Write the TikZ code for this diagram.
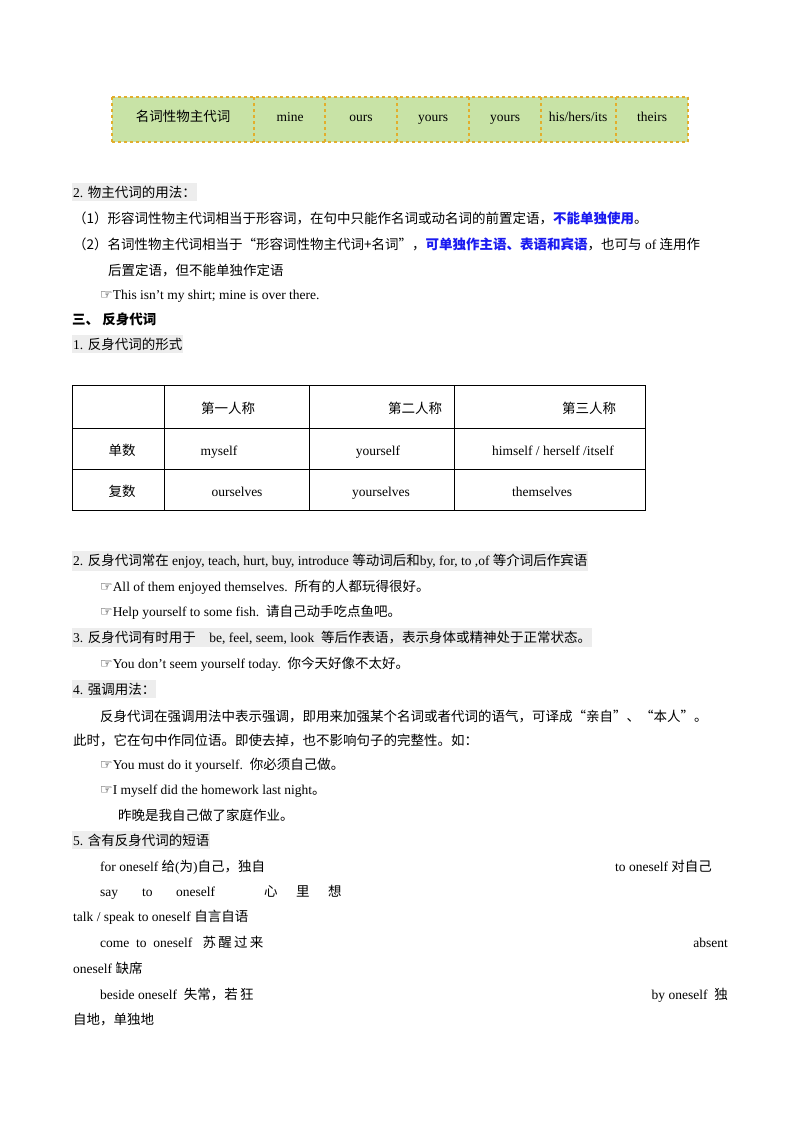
\documentclass[tikz,border=0pt]{standalone}
\usepackage{fontspec}
\setmainfont{Liberation Serif}
\newfontfamily\cjk{Noto Sans CJK SC}
\newfontfamily\dv{DejaVu Sans}
\newcommand\zh[1]{{\cjk #1}}
\newcommand\hand{{\dv\fontsize{14}{16}\selectfont ☞}}
\definecolor{hl}{HTML}{EDEDED}
\definecolor{tgreen}{HTML}{C8E3A6}
\definecolor{tgold}{HTML}{E2AE2C}
\definecolor{kblue}{HTML}{1A1AF0}
\begin{document}
\begin{tikzpicture}[x=1pt,y=-1pt,
  txt/.style={anchor=base west,inner sep=0pt,font=\fontsize{13.5}{15}\selectfont},
  head/.style={txt,fill=hl,inner ysep=3pt,inner xsep=1pt},
  cell/.style={anchor=base,inner sep=0pt,font=\fontsize{13.5}{15}\selectfont}]
\useasboundingbox (0,0) rectangle (800,1132);
% top table
\fill[tgreen] (112,97) rectangle (688,142);
\foreach \x in {112,254,325,397,469,541,616,688}
  \draw[tgold,dashed,line width=1.4pt] (\x,97) -- (\x,142);
\draw[tgold,dashed,line width=1.4pt] (112,97) -- (688,97) (112,142) -- (688,142);
\node[cell] (t0) at (183,121) {\zh{名词性物主代词}};
\node[cell] (t1) at (290,121) {mine};
\node[cell] (t2) at (361,121) {ours};
\node[cell] (t3) at (433,121) {yours};
\node[cell] (t4) at (505,121) {yours};
\node[cell] (t5) at (578,121) {his/hers/its};
\node[cell] (t6) at (652,121) {theirs};
% section 2
\node[head] (h2) at (72,197) {2. \zh{物主代词的用法：}};
\node[txt] (p1) at (73,223) {\zh{（1）形容词性物主代词相当于形容词，在句中只能作名词或动名词的前置定语，}{\cjk\bfseries\color{kblue}不能单独使用}\zh{。}};
\node[txt] (p2) at (73,249) {\zh{（2）名词性物主代词相当于“形容词性物主代词+名词”，}{\cjk\bfseries\color{kblue}可单独作主语、表语和宾语}\zh{，也可与} of \zh{连用作}};
\node[txt] (p2b) at (108,275) {\zh{后置定语，但不能单独作定语}};
\node[txt] (e1) at (100,299) {\hand This isn’t my shirt; mine is over there.};
\node[txt] (h3) at (72,324) {\cjk\bfseries 三、\ 反身代词};
\node[head] (h31) at (72,349) {1. \zh{反身代词的形式}};
% table 2
\draw[line width=0.6pt] (72,385) rectangle (645,510);
\foreach \x in {164,309,454} \draw[line width=0.6pt] (\x,385) -- (\x,510);
\draw[line width=0.6pt] (72,428) -- (645,428) (72,469) -- (645,469);
\node[cell] (c01) at (228,413) {\zh{第一人称}};
\node[cell] (c02) at (415,413) {\zh{第二人称}};
\node[cell] (c03) at (589,413) {\zh{第三人称}};
\node[cell] (c10) at (122,455) {\zh{单数}};
\node[cell] (c11) at (219,455) {myself};
\node[cell] (c12) at (378,455) {yourself};
\node[cell] (c13) at (553,455) {himself / herself /itself};
\node[cell] (c20) at (122,496) {\zh{复数}};
\node[cell] (c21) at (237,496) {ourselves};
\node[cell] (c22) at (381,496) {yourselves};
\node[cell] (c23) at (542,496) {themselves};
% items
\node[head] (i2) at (72,565) {2. \zh{反身代词常在} enjoy, teach, hurt, buy, introduce \zh{等动词后和}by, for, to ,of \zh{等介词后作宾语}};
\node[txt] (e2) at (100,591) {\hand All of them enjoyed themselves.\ \ \zh{所有的人都玩得很好。}};
\node[txt] (e3) at (100,616) {\hand Help yourself to some fish.\ \ \zh{请自己动手吃点鱼吧。}};
\node[head] (i3) at (72,642) {3. \zh{反身代词有时用于}\ \ \ \ be, feel, seem, look\ \ \zh{等后作表语，表示身体或精神处于正常状态。}};
\node[txt] (e4) at (100,668) {\hand You don’t seem yourself today.\ \ \zh{你今天好像不太好。}};
\node[head] (i4) at (72,694) {4. \zh{强调用法：}};
\node[txt] (q1) at (100,721) {\zh{反身代词在强调用法中表示强调，即用来加强某个名词或者代词的语气，可译成“亲自”、“本人”。}};
\node[txt] (q2) at (73,745) {\zh{此时，它在句中作同位语。即使去掉，也不影响句子的完整性。如：}};
\node[txt] (e5) at (100,769) {\hand You must do it yourself.\ \ \zh{你必须自己做。}};
\node[txt] (e6) at (100,794) {\hand I myself did the homework last night\zh{。}};
\node[txt] (e6b) at (118,820) {\zh{昨晚是我自己做了家庭作业。}};
\node[head] (i5) at (72,845) {5. \zh{含有反身代词的短语}};
\node[txt] (r1) at (100,871) {for oneself\ \zh{给}(\zh{为})\zh{自己，独自}};
\node[txt] (r1b) at (615,871) {to oneself\ \zh{对自己}};
\node[txt] (r2a) at (100,896) {say};
\node[txt] (r2b) at (142,896) {to};
\node[txt] (r2c) at (176,896) {oneself};
\node[txt] (r2d) at (264,896) {\zh{心}};
\node[txt] (r2e) at (296,896) {\zh{里}};
\node[txt] (r2f) at (328,896) {\zh{想}};
\node[txt] (r3) at (73,921) {talk / speak to oneself\ \zh{自言自语}};
\node[txt] (r4) at (100,947) {come\ \ to\ \ oneself\ \ \ \zh{苏\,醒\,过\,来}};
\node[txt,anchor=base east] (r4b) at (728,947) {absent};
\node[txt] (r5) at (73,973) {oneself\ \zh{缺席}};
\node[txt] (r6) at (100,999) {beside oneself\ \ \zh{失常，若\,狂}};
\node[txt,anchor=base east] (r6b) at (728,999) {by oneself\ \ \zh{独}};
\node[txt] (r7) at (73,1024) {\zh{自地，单独地}};
\end{tikzpicture}
\end{document}
